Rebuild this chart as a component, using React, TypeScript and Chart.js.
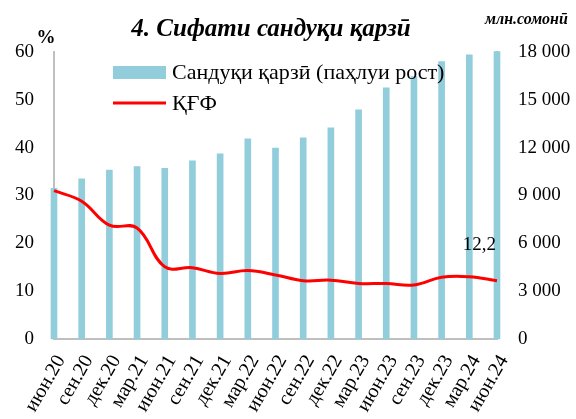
import React, { useEffect, useRef } from "react";
import { Chart, registerables } from "chart.js";
Chart.register(...registerables);

const categories = ["июн.20","сен.20","дек.20","мар.21","июн.21","сен.21","дек.21","мар.22","июн.22","сен.22","дек.22","мар.23","июн.23","сен.23","дек.23","мар.24","июн.24"];
const loanPortfolio = [9450,10040,10600,10810,10710,11170,11610,12550,11980,12610,13240,14370,15750,16460,17400,17820,18020];
const capitalAdequacy = [31.0,28.8,23.8,23.2,15.1,14.9,13.7,14.3,13.4,12.2,12.3,11.6,11.6,11.3,12.9,13.0,12.2];
const seriesLabels = ["Сандуқи қарзӣ (паҳлуи рост)", "ҚҒФ"];
const titleText = "4. Сифати сандуқи қарзӣ";
const leftUnit = "%";
const rightUnit = "млн.сомонӣ";
const lastLabel = "12,2";

const FONT = "'Liberation Serif', 'DejaVu Serif', serif";
const BAR_COLOR = "#92CDDC";
const LINE_COLOR = "#FF0000";
const AXIS_COLOR = "#BFBFBF";

const fmtThousands = (v: number) => String(v).replace(/\B(?=(\d{3})+(?!\d))/g, " ");

const decorPlugin = {
  id: "decor",
  afterDraw(chart: any) {
    const ctx = chart.ctx;
    ctx.save();
    // title
    ctx.fillStyle = "#000";
    ctx.textBaseline = "alphabetic";
    ctx.textAlign = "center";
    ctx.font = `bold italic 25px ${FONT}`;
    ctx.fillText(titleText, 271, 36);
    ctx.font = `bold italic 16px ${FONT}`;
    ctx.textAlign = "left";
    ctx.fillText(rightUnit, 485, 24);
    ctx.font = `bold 19px ${FONT}`;
    ctx.textAlign = "center";
    ctx.fillText(leftUnit, 46, 43);
    // legend
    ctx.fillStyle = BAR_COLOR;
    ctx.fillRect(113, 66, 53, 13);
    ctx.strokeStyle = LINE_COLOR;
    ctx.lineWidth = 3;
    ctx.beginPath();
    ctx.moveTo(113, 103);
    ctx.lineTo(166, 103);
    ctx.stroke();
    ctx.fillStyle = "#000";
    ctx.textAlign = "left";
    ctx.textBaseline = "middle";
    ctx.font = `22px ${FONT}`;
    ctx.fillText(chart.data.datasets[0].label, 172, 73);
    ctx.fillText(chart.data.datasets[1].label, 172, 104);
    // last data label
    const xs = chart.scales.x;
    const ys = chart.scales.y;
    const last = capitalAdequacy.length - 1;
    ctx.textAlign = "right";
    ctx.font = `19px ${FONT}`;
    ctx.fillText(lastLabel, xs.getPixelForValue(last) - 1, ys.getPixelForValue(capitalAdequacy[last]) - 36);
    ctx.restore();
  },
};

export default function App() {
  const ref = useRef<HTMLCanvasElement | null>(null);
  useEffect(() => {
    document.body.style.margin = "0";
    const chart = new Chart(ref.current as HTMLCanvasElement, {
      type: "bar",
      data: {
        labels: categories,
        datasets: [
          {
            type: "bar",
            label: seriesLabels[0],
            data: loanPortfolio,
            backgroundColor: BAR_COLOR,
            barThickness: 6,
            yAxisID: "y2",
            order: 2,
            clip: false as any,
          },
          {
            type: "line",
            label: seriesLabels[1],
            data: capitalAdequacy,
            borderColor: LINE_COLOR,
            borderWidth: 3,
            pointRadius: 0,
            tension: 0.4,
            yAxisID: "y",
            order: 1,
          },
        ],
      },
      options: {
        animation: false,
        responsive: false,
        layout: { padding: { top: 52, right: 0, left: 0, bottom: 0 } },
        plugins: { legend: { display: false }, tooltip: { enabled: false }, title: { display: false } },
        scales: {
          x: {
            offset: false,
            grid: { display: false, drawTicks: false },
            border: { color: AXIS_COLOR, width: 2 },
            ticks: { color: "#000", font: { family: FONT, size: 20 }, minRotation: 60, maxRotation: 60, autoSkip: false, padding: 12, labelOffset: 7 },
            afterFit: (s: any) => { s.height = 80; },
          },
          y: {
            position: "left",
            min: 0,
            max: 60,
            grid: { display: false, drawOnChartArea: false, drawTicks: true, tickLength: 6, color: AXIS_COLOR, tickWidth: 2 },
            border: { color: AXIS_COLOR, width: 2 },
            ticks: { stepSize: 10, color: "#000", font: { family: FONT, size: 19 }, padding: 14 },
            afterFit: (s: any) => { s.width = 54; },
          },
          y2: {
            position: "right",
            min: 0,
            max: 18000,
            grid: { display: false, drawOnChartArea: false, drawTicks: true, tickLength: 6, color: AXIS_COLOR, tickWidth: 2 },
            border: { color: AXIS_COLOR, width: 2 },
            ticks: { stepSize: 3000, color: "#000", font: { family: FONT, size: 19 }, padding: 15, callback: (v: any) => fmtThousands(Number(v)) },
            afterFit: (s: any) => { s.width = 79; },
          },
        },
      },
      plugins: [decorPlugin],
    });
    return () => chart.destroy();
  }, []);
  return (
    <div style={{ position: "fixed", left: 0, top: 0, width: 576, height: 419, background: "#fff" }}>
      <canvas ref={ref} width={576} height={419} />
    </div>
  );
}
